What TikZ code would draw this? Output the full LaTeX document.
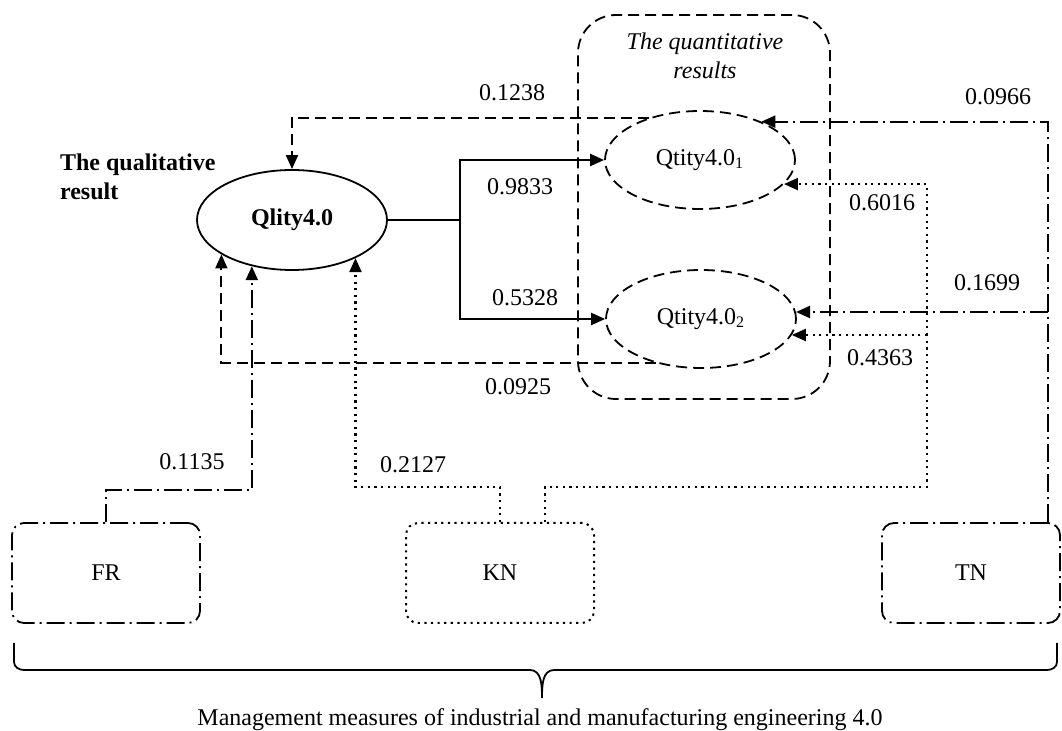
\documentclass[tikz,border=0pt]{standalone}
\usepackage{fontspec}
\setmainfont{Liberation Serif}
\usetikzlibrary{shapes.geometric,arrows.meta}

\begin{document}
\begin{tikzpicture}[x=0.5pt,y=-0.5pt,
  font=\fontsize{12}{14.4}\selectfont,
  tip/.style={-{Triangle[length=7pt,width=6pt]}},
  dsh/.style={line width=0.9pt,dash pattern=on 5.5pt off 3pt},
  dshdot/.style={line width=1pt,dash pattern=on 9pt off 2.5pt on 1pt off 2.5pt},
  dots/.style={line width=1.1pt,dash pattern=on 1.1pt off 2.2pt},
  qual/.style={ellipse,draw,line width=0.9pt,minimum width=95pt,minimum height=50pt,font=\fontsize{12}{14.4}\selectfont\bfseries},
  quant/.style={ellipse,draw,dsh,minimum width=95pt,minimum height=49pt},
  measure/.style={draw,rounded corners=6pt,minimum width=94pt,minimum height=50pt},
  num/.style={inner sep=0pt}
]
\useasboundingbox (0,0) rectangle (1062,731);

% results
\node[draw,dsh,rounded corners=19pt,minimum width=126pt,minimum height=192pt] (quantbox) at (704,207) {};
\node[align=center,font=\fontsize{12}{14.4}\selectfont\itshape] (quantlabel) at (705,56) {The quantitative\\results};
\node[qual] (qlity) at (292,220) {Qlity4.0};
\node[align=left,font=\fontsize{12}{14.4}\selectfont\bfseries,anchor=west] (quallabel) at (53,177) {The qualitative\\result};
\node[quant] (qt1) at (700,160) {Qtity4.0\textsubscript{1}};
\node[quant] (qt2) at (701,319) {Qtity4.0\textsubscript{2}};

% measures
\node[measure,dshdot,line width=0.9pt] (fr) at (106,573) {FR};
\node[measure,dots,line width=1pt] (kn) at (500,573) {KN};
\node[measure,dshdot,line width=0.9pt,minimum width=89pt] (tn) at (971,573) {TN};

\coordinate (split) at (460,220);
\coordinate (kx) at (927,487);
\coordinate (dotR) at (927,335);
\coordinate (tnb) at (1048,312);

\draw[line width=1.1pt] (qlity) -- (split);
\draw[line width=1.1pt,tip] (split) |- (qt1);
\draw[line width=1.1pt,tip] (split) |- (qt2);
\draw[dsh,line width=1pt,tip] (qt1.140) -| (qlity);
\draw[dsh,line width=1pt,tip] (qt2.224) -| (qlity.206);
\draw[dshdot,line width=1.1pt,tip] (fr.north) -- ++(0,-32) -| (qlity.229);
\draw[dots,tip] (kn.north) -- ++(0,-35) -| (qlity.-31);
\draw[dots] ([xshift=22.5pt]kn.north) |- (kx) -- (dotR);
\draw[dots,tip] (dotR) |- (qt1.-16);
\draw[dots,tip] (dotR) -- (dotR -| qt2.-10);
\draw[dshdot,line width=1.1pt,tip] ([xshift=38.5pt]tn.north) |- (qt1.32);
\draw[dshdot,line width=1.1pt,tip] (tnb) -- (tnb -| qt2.4);

% weights
\node[num] (w1) at (512,93) {0.1238};
\node[num] (w2) at (520,187) {0.9833};
\node[num] (w3) at (525,298) {0.5328};
\node[num] (w4) at (518,387) {0.0925};
\node[num] (w5) at (998,97) {0.0966};
\node[num] (w6) at (882,203) {0.6016};
\node[num] (w7) at (987,283) {0.1699};
\node[num] (w8) at (880,358) {0.4363};
\node[num] (w9) at (192,462) {0.1135};
\node[num] (w10) at (413,465) {0.2127};

% brace
\draw[line width=0.9pt] (14,643) -- (14,662) to[out=-90,in=180] (24,670) -- (530,670)
  to[out=0,in=90] (542,698) to[out=90,in=180] (554,670) -- (1047,670)
  to[out=0,in=-90] (1057,662) -- (1057,643);
\node (mgmt) at (540,720) {Management measures of industrial and manufacturing engineering 4.0};
\end{tikzpicture}
\end{document}
